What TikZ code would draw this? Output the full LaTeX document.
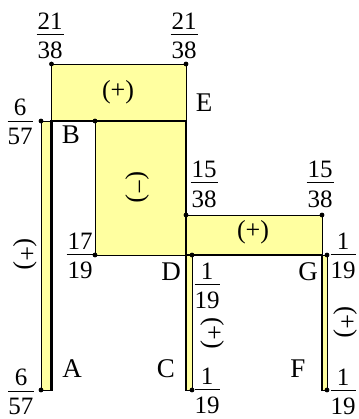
\documentclass[tikz,border=0pt]{standalone}
\usepackage{fontspec}
\setmainfont{Liberation Serif}
\definecolor{diagfill}{RGB}{255,255,160}
\newcommand\fr[2]{\vbox{\halign{\hfil##\hfil\cr\kern1pt#1\kern1pt\cr\noalign{\kern5pt\hrule height 1pt\kern7pt}#2\cr}}}
\tikzset{
  diagram/.style={fill=diagfill, draw=black, line width=0.8pt},
  frame/.style={line width=2.8pt, line cap=rect},
  fraclab/.style={font=\fontsize{25}{29}\selectfont, inner sep=0pt},
  letter/.style={font=\fontsize{27}{31}\selectfont, inner sep=0pt},
  signlab/.style={font=\fontsize{26}{30}\selectfont, inner sep=0pt},
  pt/.style={fill=black, circle, inner sep=0pt, minimum size=4.8pt}
}
\begin{document}
\begin{tikzpicture}[x=1pt, y=-1pt]
\useasboundingbox (0,0) rectangle (358,419);
% joints
\coordinate (A) at (51.5,390);
\coordinate (B) at (51.5,121);
\coordinate (E) at (186,121);
\coordinate (D) at (186,255);
\coordinate (C) at (186,390);
\coordinate (G) at (322,255);
\coordinate (F) at (322,390);
% diagrams
\draw[diagram] (41,121) rectangle (51.5,390);
\draw[diagram] (51.5,64) rectangle (186,121);
\draw[diagram] (95,121) rectangle (186,255);
\draw[diagram] (186,215) rectangle (322,255);
\draw[diagram] (186,255) rectangle (192,390);
\draw[diagram] (322,255) rectangle (327,390);
% frame
\draw[frame] (A) -- (B) -- (E) -- (C);
\draw[frame] (D) -- (G) -- (F);
% dots
\node[pt] (p1) at (41,121) {};
\node[pt] (p2) at (41,390) {};
\node[pt] (p3) at (51.5,64) {};
\node[pt] (p4) at (186,64) {};
\node[pt] (p5) at (95,121) {};
\node[pt] (p6) at (95,255) {};
\node[pt] (p7) at (186,215) {};
\node[pt] (p8) at (322,215) {};
\node[pt] (p9) at (192,255) {};
\node[pt] (p10) at (192,390) {};
\node[pt] (p11) at (327,255) {};
\node[pt] (p12) at (327,390) {};
% fractions
\node[fraclab] (f1) at (50,36) {\fr{21}{38}};
\node[fraclab] (f2) at (184,36) {\fr{21}{38}};
\node[fraclab] (f3) at (20,122) {\fr{6}{57}};
\node[fraclab] (f4) at (21,392) {\fr{6}{57}};
\node[fraclab] (f5) at (80,256) {\fr{17}{19}};
\node[fraclab] (f6) at (204,184) {\fr{15}{38}};
\node[fraclab] (f7) at (320,184) {\fr{15}{38}};
\node[fraclab] (f8) at (207,286) {\fr{1}{19}};
\node[fraclab] (f9) at (343,256) {\fr{1}{19}};
\node[fraclab] (f10) at (207,391) {\fr{1}{19}};
\node[fraclab] (f11) at (343,392) {\fr{1}{19}};
% letters
\node[letter] (lB) at (71,135) {B};
\node[letter] (lE) at (204,103) {E};
\node[letter] (lD) at (171,272) {D};
\node[letter] (lG) at (308,272) {G};
\node[letter] (lA) at (72,369) {A};
\node[letter] (lC) at (166,369) {C};
\node[letter] (lF) at (298,369) {F};
% signs
\node[signlab] (s1) at (118,92) {(+)};
\node[signlab] (s2) at (253,232) {(+)};
\node[signlab, rotate=-90] (s3) at (137,187) {(−)};
\node[signlab, rotate=-90] (s4) at (25,254) {(+)};
\node[signlab, rotate=-90] (s5) at (212,333) {(+)};
\node[signlab, rotate=-90] (s6) at (345,322) {(+)};
\end{tikzpicture}
\end{document}
